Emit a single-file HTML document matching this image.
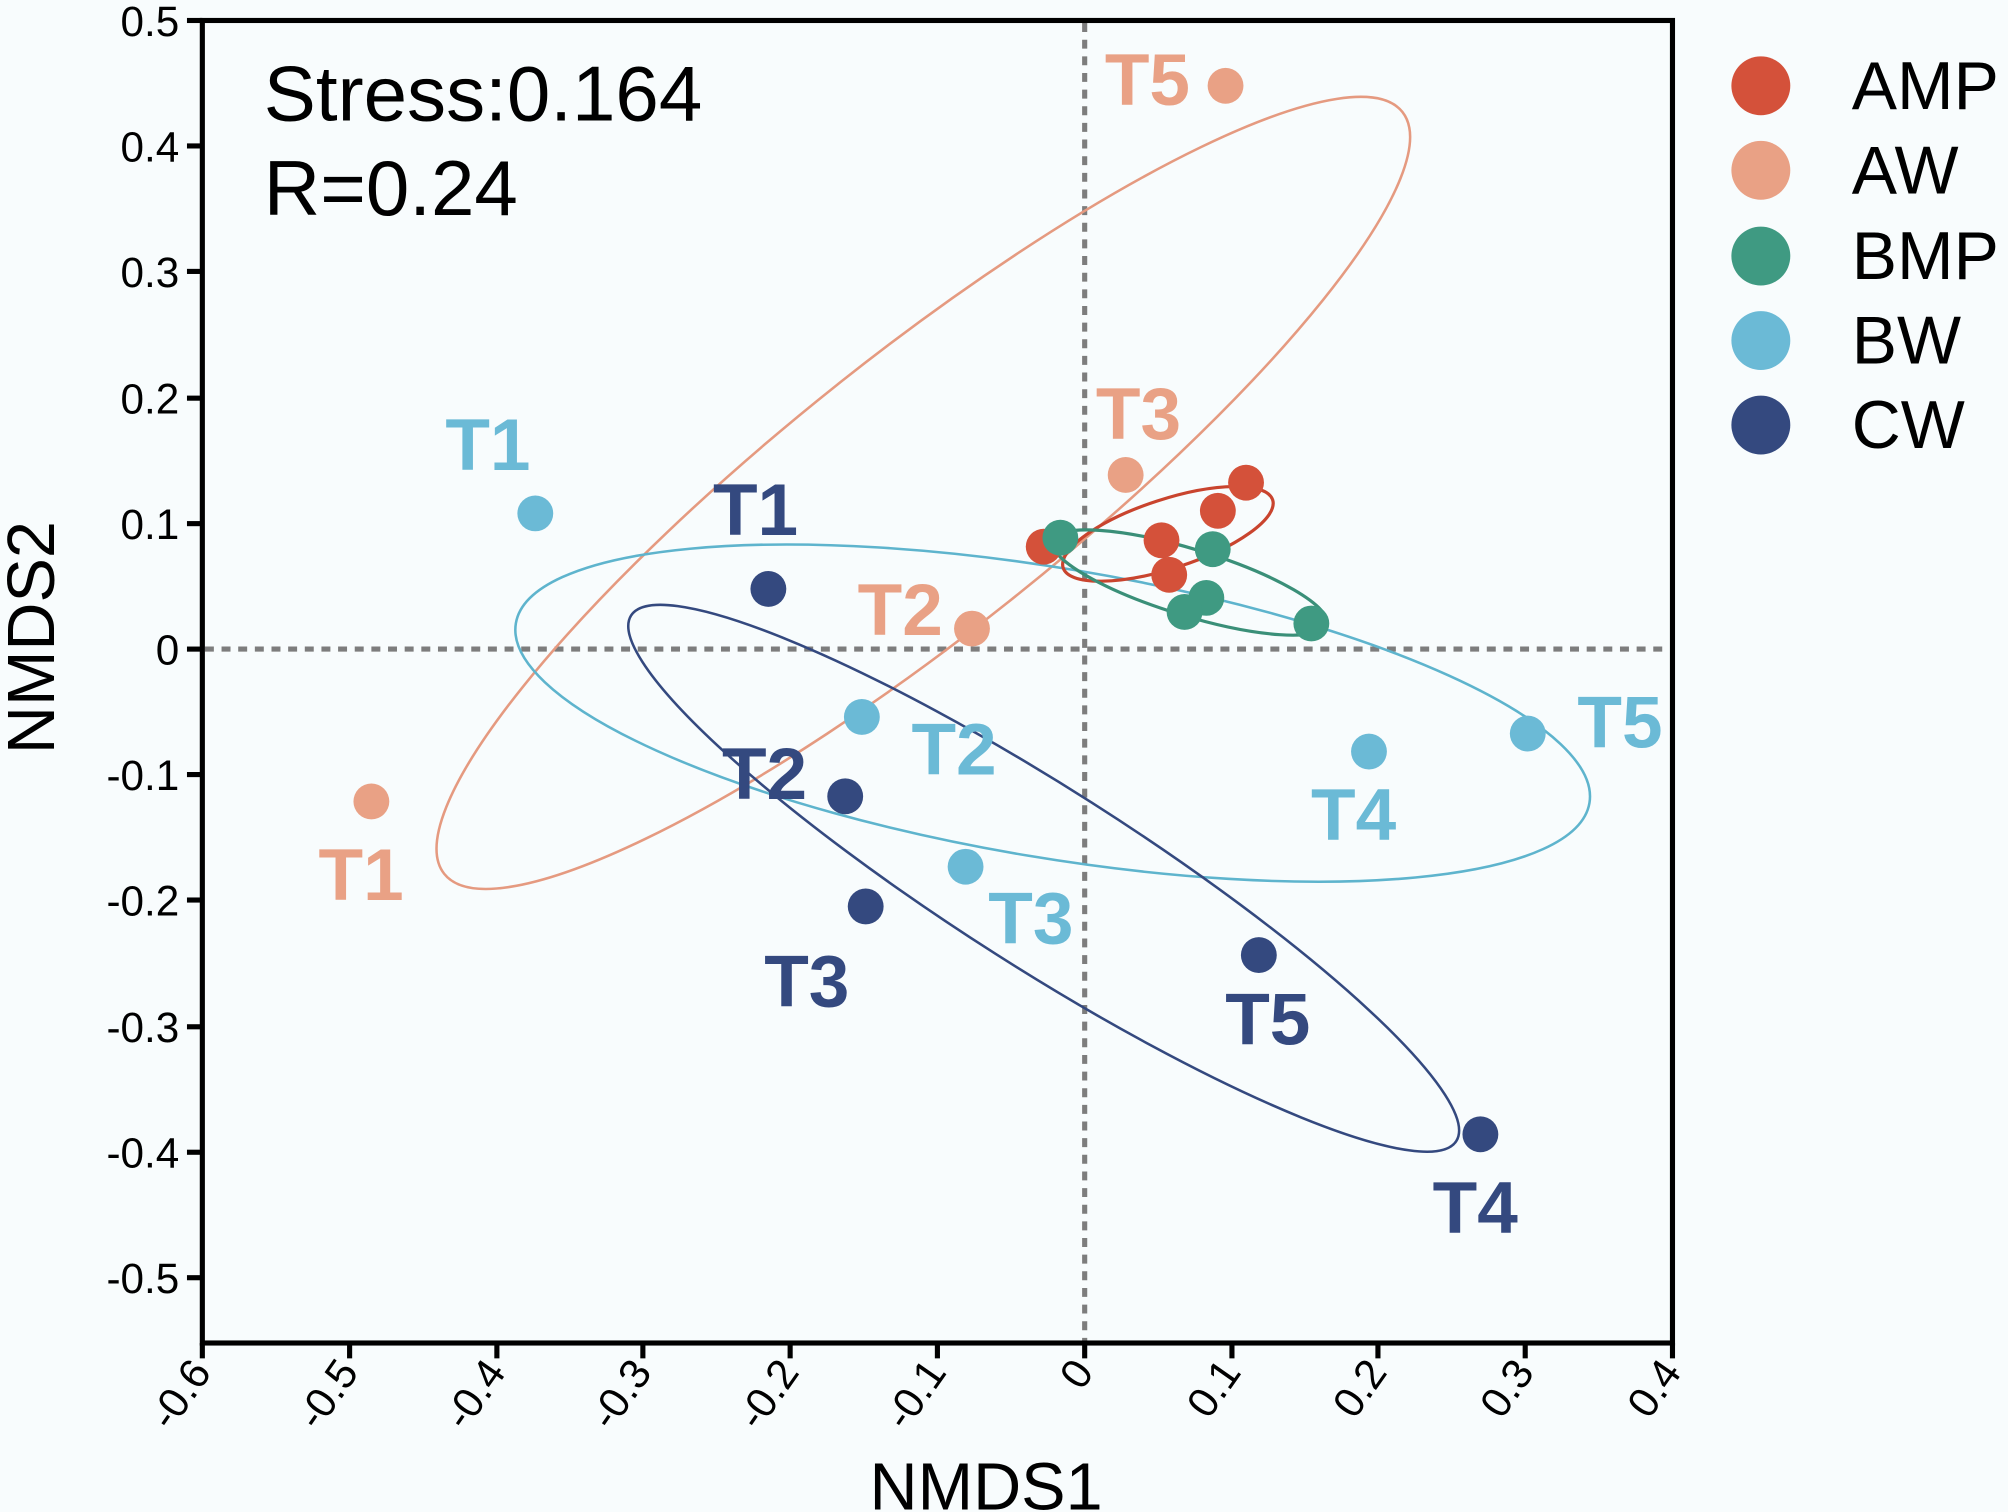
<!DOCTYPE html>
<html><head><meta charset="utf-8"><style>
html,body{margin:0;padding:0;background:#f8fcfd;}
svg{display:block;}
text{font-family:"Liberation Sans",sans-serif;}
.t{font-weight:bold;font-size:57px;text-anchor:middle;}
.yl{font-size:33px;text-anchor:end;}
.xl{font-size:33px;text-anchor:end;}
.lg{font-size:53px;}
</style></head><body>
<svg width="2008" height="1512" viewBox="0 0 1568 1181" preserveAspectRatio="none" xmlns="http://www.w3.org/2000/svg">
<rect x="0" y="0" width="1568" height="1181" fill="#f8fcfd"/>
<line x1="847" y1="18" x2="847" y2="1047" stroke="#7d7d7d" stroke-width="4" stroke-dasharray="7 6"/>
<line x1="160" y1="507" x2="1304" y2="507" stroke="#7d7d7d" stroke-width="4" stroke-dasharray="7 6"/>
<ellipse cx="721" cy="385" rx="478" ry="108" transform="rotate(-38.5 721 385)" fill="none" stroke="#e59a80" stroke-width="2"/>
<ellipse cx="822" cy="557" rx="425" ry="113" transform="rotate(9.5 822 557)" fill="none" stroke="#5eb4cd" stroke-width="2"/>
<ellipse cx="815" cy="686" rx="382" ry="70" transform="rotate(32.5 815 686)" fill="none" stroke="#34497f" stroke-width="2"/>
<ellipse cx="912" cy="417" rx="86" ry="27" transform="rotate(-18 912 417)" fill="none" stroke="#c9442e" stroke-width="2.5"/>
<ellipse cx="929" cy="455" rx="112" ry="26" transform="rotate(17 929 455)" fill="none" stroke="#3a8f78" stroke-width="2.5"/>
<g fill="#d4513a">
<circle cx="815" cy="427" r="14"/><circle cx="907" cy="422" r="14"/><circle cx="913" cy="449" r="14"/><circle cx="951" cy="399" r="14"/><circle cx="973" cy="377" r="14"/>
</g>
<g fill="#e9a185">
<circle cx="957" cy="67" r="14"/><circle cx="879" cy="371" r="14"/><circle cx="759" cy="491" r="14"/><circle cx="290" cy="626" r="14"/>
</g>
<g fill="#3f9a82">
<circle cx="828" cy="420" r="14"/><circle cx="947" cy="429" r="14"/><circle cx="942" cy="467" r="14"/><circle cx="925" cy="478" r="14"/><circle cx="1024" cy="487" r="14"/>
</g>
<g fill="#6bbad6">
<circle cx="418" cy="401" r="14"/><circle cx="673" cy="560" r="14"/><circle cx="754" cy="677" r="14"/><circle cx="1069" cy="587" r="14"/><circle cx="1193" cy="573" r="14"/>
</g>
<g fill="#34497f">
<circle cx="600" cy="460" r="14"/><circle cx="660" cy="622" r="14"/><circle cx="676" cy="708" r="14"/><circle cx="983" cy="746" r="14"/><circle cx="1156" cy="886" r="14"/>
</g>
<g fill="#e9a185">
<text x="896" y="82" class="t">T5</text><text x="889" y="343" class="t">T3</text><text x="703" y="496" class="t">T2</text><text x="282" y="703" class="t">T1</text>
</g>
<g fill="#6bbad6">
<text x="381" y="367" class="t">T1</text><text x="745" y="605" class="t">T2</text><text x="805" y="737" class="t">T3</text><text x="1057" y="656" class="t">T4</text><text x="1265" y="584" class="t">T5</text>
</g>
<g fill="#34497f">
<text x="590" y="418" class="t">T1</text><text x="597" y="624" class="t">T2</text><text x="630" y="786" class="t">T3</text><text x="990" y="816" class="t">T5</text><text x="1152" y="963" class="t">T4</text>
</g>
<rect x="158" y="16" width="1148" height="1033" fill="none" stroke="#000" stroke-width="4"/>
<g stroke="#000" stroke-width="4">
<line x1="146" y1="16" x2="158" y2="16"/><line x1="146" y1="114" x2="158" y2="114"/><line x1="146" y1="212" x2="158" y2="212"/><line x1="146" y1="311" x2="158" y2="311"/><line x1="146" y1="409" x2="158" y2="409"/><line x1="146" y1="507" x2="158" y2="507"/><line x1="146" y1="605" x2="158" y2="605"/><line x1="146" y1="703" x2="158" y2="703"/><line x1="146" y1="802" x2="158" y2="802"/><line x1="146" y1="900" x2="158" y2="900"/><line x1="146" y1="998" x2="158" y2="998"/>
</g>
<g fill="#000">
<text x="140" y="28" class="yl">0.5</text><text x="140" y="126" class="yl">0.4</text><text x="140" y="224" class="yl">0.3</text><text x="140" y="323" class="yl">0.2</text><text x="140" y="421" class="yl">0.1</text><text x="140" y="519" class="yl">0</text><text x="140" y="617" class="yl">-0.1</text><text x="140" y="715" class="yl">-0.2</text><text x="140" y="814" class="yl">-0.3</text><text x="140" y="912" class="yl">-0.4</text><text x="140" y="1010" class="yl">-0.5</text>
</g>
<g stroke="#000" stroke-width="4">
<line x1="158" y1="1049" x2="158" y2="1061"/><line x1="273" y1="1049" x2="273" y2="1061"/><line x1="388" y1="1049" x2="388" y2="1061"/><line x1="502" y1="1049" x2="502" y2="1061"/><line x1="617" y1="1049" x2="617" y2="1061"/><line x1="732" y1="1049" x2="732" y2="1061"/><line x1="847" y1="1049" x2="847" y2="1061"/><line x1="962" y1="1049" x2="962" y2="1061"/><line x1="1076" y1="1049" x2="1076" y2="1061"/><line x1="1191" y1="1049" x2="1191" y2="1061"/><line x1="1306" y1="1049" x2="1306" y2="1061"/>
</g>
<g fill="#000">
<text class="xl" transform="translate(166 1072) rotate(-55)">-0.6</text>
<text class="xl" transform="translate(281 1072) rotate(-55)">-0.5</text>
<text class="xl" transform="translate(396 1072) rotate(-55)">-0.4</text>
<text class="xl" transform="translate(510 1072) rotate(-55)">-0.3</text>
<text class="xl" transform="translate(625 1072) rotate(-55)">-0.2</text>
<text class="xl" transform="translate(740 1072) rotate(-55)">-0.1</text>
<text class="xl" transform="translate(855 1072) rotate(-55)">0</text>
<text class="xl" transform="translate(970 1072) rotate(-55)">0.1</text>
<text class="xl" transform="translate(1084 1072) rotate(-55)">0.2</text>
<text class="xl" transform="translate(1199 1072) rotate(-55)">0.3</text>
<text class="xl" transform="translate(1314 1072) rotate(-55)">0.4</text>
</g>
<text x="770" y="1179" font-size="52" text-anchor="middle" fill="#000">NMDS1</text>
<text transform="translate(42 498) rotate(-90)" font-size="52" text-anchor="middle" fill="#000">NMDS2</text>
<text x="206" y="94" font-size="61" fill="#000">Stress:0.164</text>
<text x="206" y="168" font-size="61" fill="#000">R=0.24</text>
<circle cx="1375" cy="67" r="23" fill="#d4513a"/>
<circle cx="1375" cy="133" r="23" fill="#e9a185"/>
<circle cx="1375" cy="200" r="23" fill="#3f9a82"/>
<circle cx="1375" cy="266" r="23" fill="#6bbad6"/>
<circle cx="1375" cy="332" r="23" fill="#34497f"/>
<g fill="#000">
<text x="1446" y="85" class="lg">AMP</text>
<text x="1446" y="151" class="lg">AW</text>
<text x="1446" y="218" class="lg">BMP</text>
<text x="1446" y="284" class="lg">BW</text>
<text x="1446" y="350" class="lg">CW</text>
</g>
</svg>
</body></html>
